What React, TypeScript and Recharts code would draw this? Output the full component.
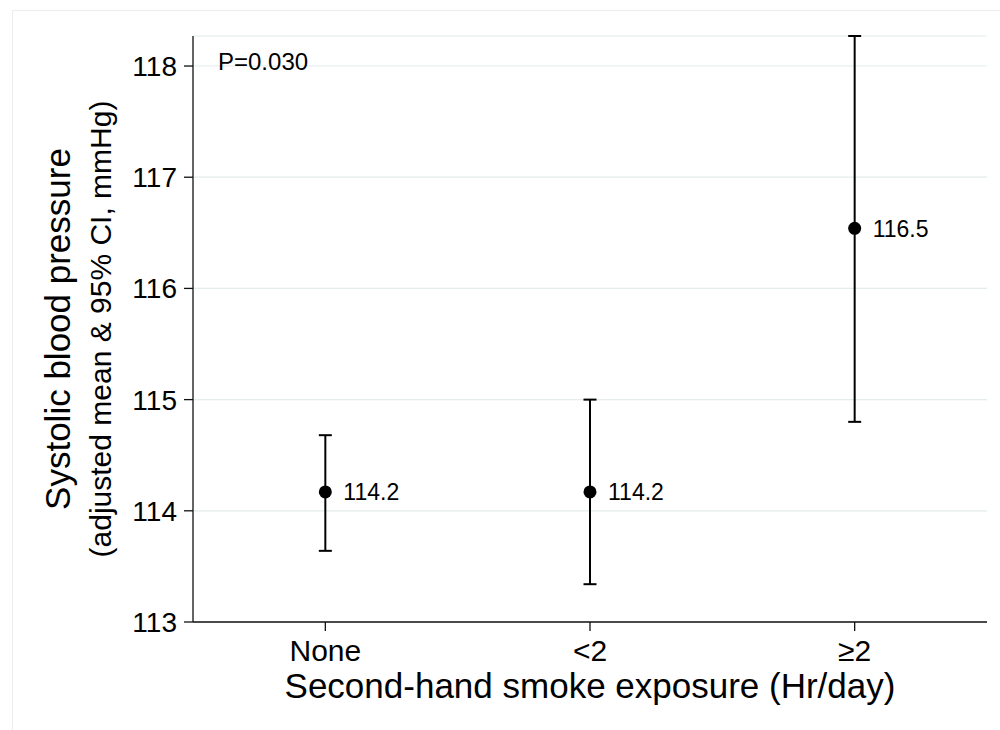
import React from 'react';
import { ScatterChart, Scatter, XAxis, YAxis, CartesianGrid, ErrorBar, Customized } from 'recharts';

const categories = ['None', '<2', '≥2'];
const positions = [1, 2, 3];
const means = [114.17, 114.17, 116.54];
const lower = [113.64, 113.34, 114.8];
const upper = [114.68, 115.0, 118.27];
const yTicks = [113, 114, 115, 116, 117, 118];
const pValue = 'P=0.030';

const rows = categories.map((name, i) => ({
  name,
  pos: positions[i],
  mean: means[i],
  err: [means[i] - lower[i], upper[i] - means[i]],
}));

const FONT = '"Liberation Sans", Arial, Helvetica, sans-serif';

const MeanDot = (props: any) => {
  const { cx, cy, payload } = props;
  return (
    <g>
      <circle cx={cx} cy={cy} r={6.5} fill="#000" />
      <text x={cx + 18} y={cy} dy="0.36em" fontSize={23} fontFamily={FONT} fill="#000">
        {payload.mean.toFixed(1)}
      </text>
    </g>
  );
};

const YTitle = (props: any) => {
  const { viewBox } = props;
  const cy = viewBox.y + viewBox.height / 2;
  return (
    <g fontFamily={FONT} fill="#000" textAnchor="middle">
      <text x={70} y={cy} transform={`rotate(-90 70 ${cy})`} fontSize={35}>
        Systolic blood pressure
      </text>
      <text x={111} y={cy} transform={`rotate(-90 111 ${cy})`} fontSize={30}>
        (adjusted mean &amp; 95% CI, mmHg)
      </text>
    </g>
  );
};

const XTitle = (props: any) => {
  const { viewBox } = props;
  const cx = viewBox.x + viewBox.width / 2;
  return (
    <text x={cx} y={698} textAnchor="middle" fontSize={35} fontFamily={FONT} fill="#000">
      Second-hand smoke exposure (Hr/day)
    </text>
  );
};

export default function App() {
  return (
    <div style={{ position: 'relative', width: 1000, height: 730, background: '#fff' }}>
      <style>{`body{margin:0;overflow:hidden;background:#fff}`}</style>
      <div
        style={{
          position: 'absolute',
          left: 12,
          top: 10,
          width: 1000,
          height: 740,
          border: '1px solid #ececec',
        }}
      />
      <div style={{ position: 'absolute', left: 0, top: 0 }}>
        <ScatterChart width={1000} height={730} margin={{ top: 36, right: 13, bottom: 0, left: 0 }}>
          <CartesianGrid horizontal vertical={false} stroke="#e4ecec" strokeWidth={1.2} />
          <XAxis
            type="number"
            dataKey="pos"
            domain={[0.5, 3.5]}
            ticks={positions}
            interval={0}
            tickFormatter={(v: number) => categories[v - 1]}
            height={108}
            tickSize={9}
            tickMargin={9}
            stroke="#111"
            strokeWidth={1.3}
            tick={{ fontSize: 30, fontFamily: FONT, fill: '#000' }}
            label={{ content: <XTitle /> }}
          />
          <YAxis
            type="number"
            dataKey="mean"
            domain={[113, 118.27]}
            allowDataOverflow
            ticks={yTicks}
            interval={0}
            width={193}
            tickSize={9}
            tickMargin={7}
            stroke="#111"
            strokeWidth={1.3}
            tick={{ fontSize: 28, fontFamily: FONT, fill: '#000' }}
            label={{ content: <YTitle /> }}
          />
          <Scatter data={rows} dataKey="mean" shape={<MeanDot />} isAnimationActive={false}>
            <ErrorBar dataKey="err" direction="y" width={6.5} stroke="#000" strokeWidth={2} />
          </Scatter>
          <Customized
            component={() => (
              <text x={218} y={70} fontSize={24} fontFamily={FONT} fill="#000">
                {pValue}
              </text>
            )}
          />
        </ScatterChart>
      </div>
    </div>
  );
}
